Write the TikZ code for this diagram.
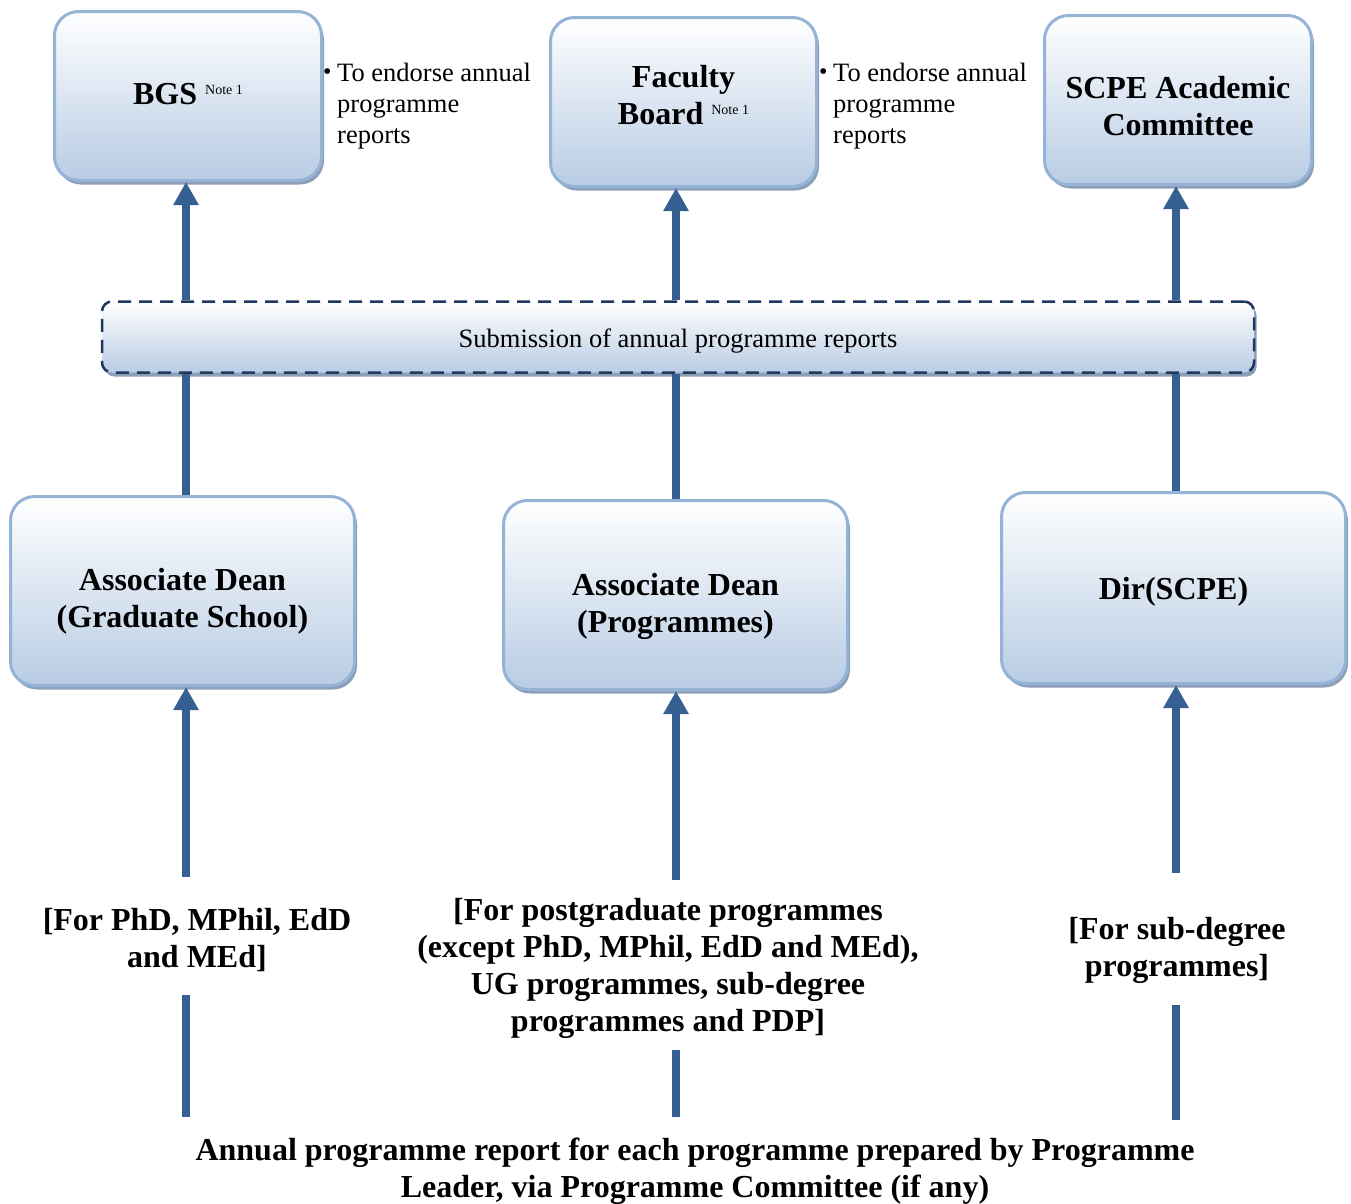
\documentclass[tikz,border=0pt]{standalone}
\usepackage{fontspec}
\setmainfont{Liberation Serif}
\usetikzlibrary{arrows.meta,shadows}
\definecolor{boxline}{RGB}{149,179,215}
\definecolor{boxbot}{RGB}{184,204,228}
\definecolor{shadowc}{RGB}{140,158,184}
\definecolor{arrowc}{RGB}{54,96,146}
\definecolor{dashc}{RGB}{31,56,96}
\newcommand{\notemark}{\raisebox{10pt}{\fontsize{14}{14}\selectfont\mdseries Note 1}}
\newcommand{\sbul}{\makebox[14pt][l]{\fontsize{24}{24}\selectfont\raisebox{2pt}{\textbullet}}}
\begin{document}
\begin{tikzpicture}[x=1pt,y=-1pt,
  orgbox/.style={draw=boxline, line width=3pt, rounded corners=24pt,
    top color=white, bottom color=boxbot,
    drop shadow={shadow xshift=2.5pt,shadow yshift=-4pt,fill=shadowc,opacity=1},
    inner sep=0pt},
  boxtext/.style={align=center, font=\fontsize{32}{37}\selectfont\bfseries, inner sep=0pt},
  subbox/.style={draw=dashc, line width=2.5pt, dash pattern=on 13pt off 8pt,
    rounded corners=10pt, top color=white, bottom color=boxbot,
    drop shadow={shadow xshift=2.5pt,shadow yshift=-4pt,fill=shadowc,opacity=1},
    inner sep=0pt},
  plaintext/.style={font=\fontsize{26.5}{31}\selectfont, inner sep=0pt},
  sidetext/.style={align=left, font=\fontsize{26.5}{31}\selectfont, inner sep=0pt},
  lbl/.style={align=center, font=\fontsize{32}{37}\selectfont\bfseries, inner sep=0pt},
  ln/.style={draw=arrowc, line width=8pt},
  arr/.style={ln, -{Triangle[width=24pt,length=23pt]}}]
\useasboundingbox (0,0) rectangle (1351,1203);

% column coordinates
\coordinate (A1) at (186,877); \coordinate (A2) at (186,995); \coordinate (A3) at (186,1117);
\coordinate (B1) at (676,880); \coordinate (B2) at (676,1050); \coordinate (B3) at (676,1117);
\coordinate (C1) at (1176,873); \coordinate (C2) at (1176,1005); \coordinate (C3) at (1176,1120);

% top boxes
\node[orgbox, minimum width=267pt, minimum height=169pt] (bgs) at (188,96) {};
\node[boxtext] (bgsT) at (188,94) {BGS \notemark};
\node[orgbox, minimum width=266pt, minimum height=169pt] (fb) at (683.5,102) {};
\node[boxtext] (fbT) at (683.5,95) {Faculty\\Board \notemark};
\node[orgbox, minimum width=267pt, minimum height=169pt] (scpe) at (1178,100) {};
\node[boxtext] (scpeT) at (1178,106) {SCPE Academic\\Committee};

% side notes
\node[sidetext, anchor=north west] (endA) at (323,63) {\sbul To endorse annual\\\hspace*{14pt}programme\\\hspace*{14pt}reports};
\node[sidetext, anchor=north west] (endB) at (819,63) {\sbul To endorse annual\\\hspace*{14pt}programme\\\hspace*{14pt}reports};

% submission box
\node[subbox, minimum width=1152pt, minimum height=71pt] (sub) at (678,337) {};
\node[plaintext] (subT) at (678,341) {Submission of annual programme reports};

% middle boxes
\node[orgbox, minimum width=344pt, minimum height=189pt] (ad1) at (182.5,591) {};
\node[boxtext] (ad1T) at (182.5,601) {Associate Dean\\(Graduate School)};
\node[orgbox, minimum width=344pt, minimum height=189pt] (ad2) at (675.5,595) {};
\node[boxtext] (ad2T) at (675.5,606) {Associate Dean\\(Programmes)};
\node[orgbox, minimum width=344pt, minimum height=191pt] (dir) at (1173.5,588) {};
\node[boxtext] (dirT) at (1173.5,592) {Dir(SCPE)};

% labels
\node[lbl] (labA) at (197,940.5) {[For PhD, MPhil, EdD\\and MEd]};
\node[lbl] (labB) at (668,968) {[For postgraduate programmes\\(except PhD, MPhil, EdD and MEd),\\UG programmes, sub-degree\\programmes and PDP]};
\node[lbl] (labC) at (1177,950) {[For sub-degree\\programmes]};
\node[lbl] (rep) at (695,1171) {Annual programme report for each programme prepared by Programme\\Leader, via Programme Committee (if any)};

% connectors
\draw[ln] (A3) -- (A2);
\draw[ln] (B3) -- (B2);
\draw[ln] (C3) -- (C2);
\draw[arr] (A1) -- (ad1.south -| A1);
\draw[arr] (B1) -- (ad2.south -| B1);
\draw[arr] (C1) -- (dir.south -| C1);
\draw[ln] (ad1.north -| A1) -- (sub.south -| A1);
\draw[ln] (ad2.north -| B1) -- (sub.south -| B1);
\draw[ln] (dir.north -| C1) -- (sub.south -| C1);
\draw[arr] (sub.north -| A1) -- (bgs.south -| A1);
\draw[arr] (sub.north -| B1) -- (fb.south -| B1);
\draw[arr] (sub.north -| C1) -- (scpe.south -| C1);
\end{tikzpicture}
\end{document}
